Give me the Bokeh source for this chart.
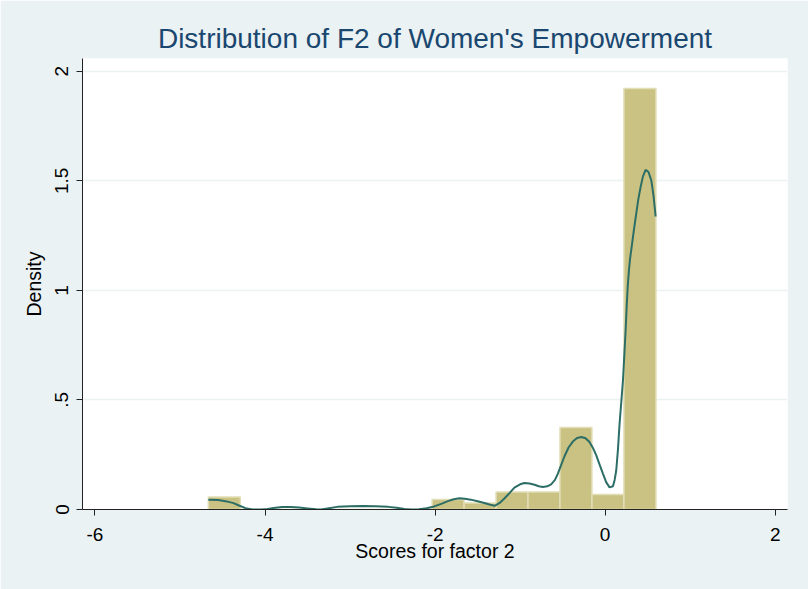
from bokeh.plotting import figure
from bokeh.models import Range1d, FixedTicker, ColumnDataSource
from bokeh.embed import file_html
from bokeh.resources import INLINE

# Histogram: bin edges and densities
bin_edges = [-4.667, -4.291, -3.915, -3.539, -3.163, -2.787, -2.411, -2.035,
             -1.659, -1.283, -0.907, -0.531, -0.155, 0.221, 0.598]
densities = [0.057, 0.0, 0.0, 0.0, 0.0, 0.0, 0.0, 0.046,
             0.030, 0.080, 0.080, 0.374, 0.068, 1.921]

# Kernel density curve
kde_x = [-4.667, -4.55, -4.45, -4.37, -4.30, -4.23, -4.15, -4.05, -3.97, -3.90,
         -3.80, -3.70, -3.60, -3.50, -3.40, -3.34, -3.25, -3.15, -3.00, -2.85,
         -2.70, -2.55, -2.45, -2.36, -2.28, -2.19, -2.10, -2.01, -1.92, -1.85,
         -1.78, -1.715, -1.65, -1.58, -1.50, -1.42, -1.36, -1.30, -1.24, -1.185,
         -1.12, -1.067, -1.00, -0.949, -0.89, -0.83, -0.78, -0.733, -0.68, -0.635,
         -0.59, -0.556, -0.52, -0.478, -0.43, -0.38, -0.33, -0.28, -0.23, -0.184,
         -0.145, -0.105, -0.065, -0.026, 0.012, 0.052, 0.092, 0.112, 0.131, 0.15,
         0.17, 0.19, 0.21, 0.225, 0.24, 0.254, 0.268, 0.28, 0.292, 0.316, 0.34,
         0.366, 0.39, 0.417, 0.445, 0.476, 0.51, 0.543, 0.57, 0.594]
kde_y = [0.045, 0.043, 0.037, 0.029, 0.017, 0.006, 0.0, 0.0, 0.002, 0.007,
         0.011, 0.011, 0.009, 0.005, 0.001, 0.0, 0.006, 0.012, 0.015, 0.016,
         0.015, 0.012, 0.008, 0.002, 0.0, 0.001, 0.006, 0.014, 0.027, 0.038,
         0.047, 0.051, 0.049, 0.045, 0.038, 0.030, 0.023, 0.017, 0.030, 0.050,
         0.077, 0.100, 0.115, 0.121, 0.119, 0.113, 0.106, 0.103, 0.106, 0.115,
         0.135, 0.164, 0.200, 0.243, 0.283, 0.310, 0.326, 0.331, 0.325, 0.308,
         0.282, 0.248, 0.205, 0.164, 0.125, 0.101, 0.106, 0.135, 0.179, 0.270,
         0.392, 0.49, 0.590, 0.70, 0.81, 0.93, 1.03, 1.09, 1.14, 1.21, 1.28,
         1.35, 1.415, 1.471, 1.52, 1.550, 1.54, 1.502, 1.43, 1.337]

x_ticks = [-6, -4, -2, 0, 2]
x_tick_labels = ["-6", "-4", "-2", "0", "2"]
y_ticks = [0, 0.5, 1, 1.5, 2]
y_tick_labels = ["0", ".5", "1", "1.5", "2"]

title_text = "Distribution of F2 of Women's Empowerment"
x_label = "Scores for factor 2"
y_label = "Density"

BG = "#EAF2F3"
FONT = "Liberation Sans"

p = figure(width=808, height=589, output_backend="svg", toolbar_location=None,
           x_range=Range1d(-6.147, 2.145), y_range=Range1d(0, 2.058),
           min_border_left=82, min_border_right=21, min_border_top=58,
           min_border_bottom=80)

p.border_fill_color = BG
p.background_fill_color = "white"
p.outline_line_color = None

src = ColumnDataSource(dict(left=bin_edges[:-1], right=bin_edges[1:],
                            top=densities, bottom=[0] * len(densities)))
p.quad(left="left", right="right", top="top", bottom="bottom", source=src,
       fill_color="#C9C283", line_color="#E2DEB6", line_width=1.5)

p.line(kde_x, kde_y, line_color="#2C6E66", line_width=2)

p.title.text = title_text
p.title.align = "center"
p.title.text_font = FONT
p.title.text_font_size = "28px"
p.title.text_font_style = "normal"
p.title.text_color = "#1A476F"

p.xaxis.ticker = FixedTicker(ticks=x_ticks)
p.xaxis.major_label_overrides = {t: s for t, s in zip(x_ticks, x_tick_labels)}
p.yaxis.ticker = FixedTicker(ticks=y_ticks)
p.yaxis.major_label_overrides = {t: s for t, s in zip(y_ticks, y_tick_labels)}
p.yaxis.major_label_orientation = "vertical"

for ax in (p.xaxis, p.yaxis):
    ax.minor_tick_line_color = None
    ax.major_tick_out = 6
    ax.major_tick_in = 0
    ax.axis_line_color = "#222222"
    ax.major_tick_line_color = "#222222"
    ax.major_label_text_font = FONT
    ax.major_label_text_font_size = "19px"
    ax.major_label_text_color = "black"
    ax.axis_label_text_font = FONT
    ax.axis_label_text_font_size = "19.5px"
    ax.axis_label_text_font_style = "normal"
    ax.axis_label_text_color = "black"

p.xaxis.axis_label = x_label
p.yaxis.axis_label = y_label
p.xaxis.major_label_standoff = 12
p.xaxis.axis_label_standoff = -4
p.yaxis.major_label_standoff = 8
p.yaxis.axis_label_standoff = 8

p.xgrid.grid_line_color = None
p.ygrid.ticker = FixedTicker(ticks=y_ticks[1:])
p.ygrid.grid_line_color = BG
p.ygrid.grid_line_width = 1.5

open("out.html", "w").write(file_html(p, INLINE))
